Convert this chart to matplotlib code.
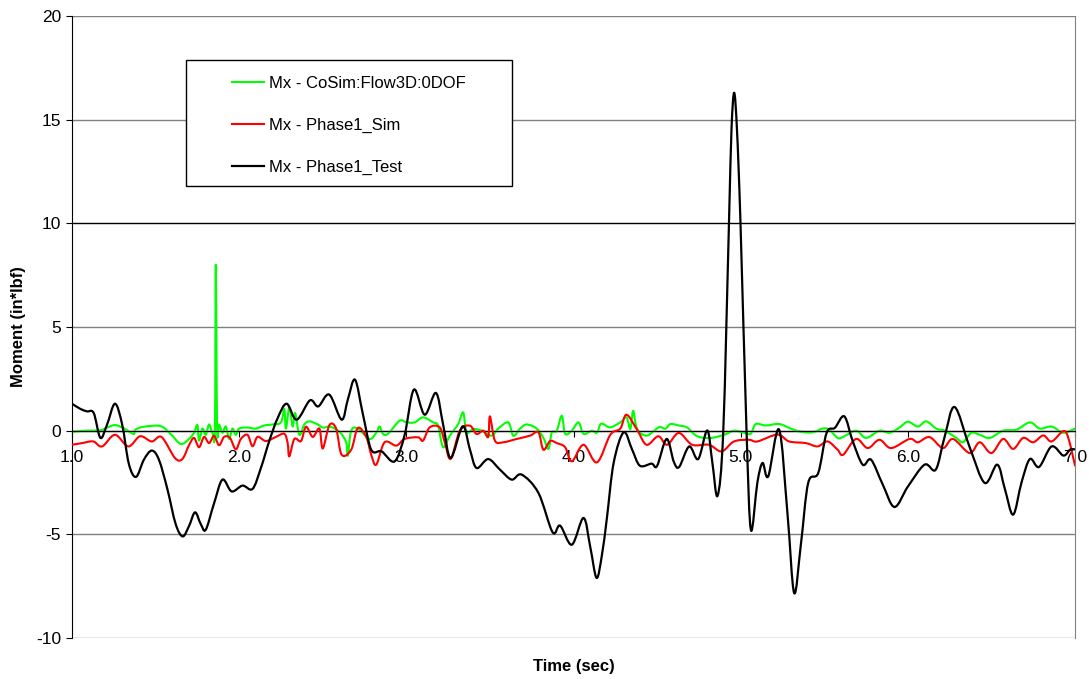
import numpy as np
import matplotlib.pyplot as plt
from matplotlib.patches import Rectangle, PathPatch
from matplotlib.path import Path
from matplotlib.lines import Line2D

plt.rcParams['font.family'] = ['Liberation Sans', 'DejaVu Sans']
plt.rcParams['axes.unicode_minus'] = False

# Mx - CoSim:Flow3D:0DOF
t_cosim = [1.00, 1.08, 1.17, 1.21, 1.257, 1.30, 1.33, 1.37, 1.38, 1.43, 1.53, 1.59, 1.65, 1.70,
           1.73, 1.75, 1.76, 1.78, 1.80, 1.82, 1.84, 1.855, 1.86, 1.868, 1.88, 1.90, 1.92, 1.94,
           1.96, 1.98, 2.00, 2.05, 2.10, 2.15, 2.20, 2.25, 2.27, 2.28, 2.30, 2.32, 2.335, 2.36,
           2.39, 2.42, 2.47, 2.50, 2.543, 2.60, 2.64, 2.65, 2.67, 2.71, 2.78, 2.82, 2.84, 2.86,
           2.89, 2.96, 3.00, 3.05, 3.10, 3.16, 3.19, 3.22, 3.26, 3.31, 3.34, 3.36, 3.40, 3.45,
           3.51, 3.55, 3.61, 3.64, 3.68, 3.72, 3.78, 3.82, 3.85, 3.87, 3.90, 3.93, 3.95, 3.99,
           4.03, 4.06, 4.11, 4.14, 4.16, 4.178, 4.22, 4.28, 4.317, 4.34, 4.357, 4.38, 4.437,
           4.51, 4.55, 4.58, 4.63, 4.68, 4.74, 4.82, 4.90, 4.96, 5.02, 5.06, 5.09, 5.15, 5.23,
           5.30, 5.36, 5.43, 5.49, 5.53, 5.58, 5.613, 5.69, 5.75, 5.83, 5.89, 5.95, 6.00, 6.06,
           6.11, 6.17, 6.22, 6.29, 6.33, 6.38, 6.43, 6.49, 6.57, 6.65, 6.73, 6.79, 6.86, 6.93,
           7.00]
mx_cosim = [-0.05, 0.0, 0.02, 0.15, 0.27, 0.15, 0.02, -0.16, 0.05, 0.19, 0.22, -0.16, -0.64, -0.4,
            -0.1, 0.27, -0.48, 0.1, -0.2, 0.3, -0.1, 0.1, 8.0, 0.2, 0.3, -0.1, 0.2, -0.4,
            0.1, -0.2, 0.1, 0.15, 0.1, 0.25, 0.3, 0.4, 1.05, 0.1, 1.13, 0.2, 0.85, -0.2,
            0.3, 0.45, 0.3, 0.15, 0.19, -0.05, -0.56, -1.2, 0.0, 0.1, -0.4, -0.1, 0.2, -0.15,
            -0.15, 0.48, 0.4, 0.4, 0.64, 0.4, 0.24, -0.8, -0.24, 0.32, 0.88, -0.08, 0.08, 0.0,
            -0.24, 0.1, 0.4, -0.25, 0.1, 0.3, 0.1, -0.35, -0.88, -0.1, 0.0, 0.72, -0.15, 0.0,
            0.4, -0.15, 0.0, -0.1, 0.3, 0.32, 0.16, 0.4, 0.64, 0.08, 0.96, 0.1, -0.24,
            0.16, 0.1, 0.32, 0.25, 0.15, -0.27, -0.35, -0.2, 0.0, -0.1, -0.15, 0.32, 0.25, 0.32,
            0.1, -0.05, -0.08, 0.1, 0.05, -0.35, -0.3, 0.0, -0.35, 0.0, -0.1, 0.15, 0.43, 0.2,
            0.45, 0.1, 0.0, -0.35, -0.56, -0.1, -0.2, -0.35, 0.0, 0.05, 0.4, 0.1, 0.2, -0.1,
            0.1]

# Mx - Phase1_Sim
t_sim = [1.00, 1.06, 1.127, 1.18, 1.257, 1.337, 1.407, 1.477, 1.536, 1.616, 1.66, 1.70, 1.73,
         1.76, 1.79, 1.82, 1.85, 1.88, 1.91, 1.945, 1.98, 2.01, 2.05, 2.08, 2.11, 2.16, 2.22,
         2.27, 2.29, 2.30, 2.33, 2.37, 2.40, 2.44, 2.48, 2.50, 2.54, 2.58, 2.613, 2.67, 2.71,
         2.76, 2.79, 2.82, 2.87, 2.94, 2.99, 3.07, 3.10, 3.14, 3.20, 3.23, 3.265, 3.32, 3.38,
         3.42, 3.46, 3.49, 3.50, 3.53, 3.58, 3.66, 3.74, 3.79, 3.82, 3.86, 3.90, 3.95, 3.99,
         4.06, 4.14, 4.22, 4.28, 4.317, 4.38, 4.437, 4.507, 4.56, 4.63, 4.71, 4.81, 4.886,
         4.96, 5.05, 5.10, 5.22, 5.29, 5.39, 5.46, 5.52, 5.58, 5.613, 5.69, 5.76, 5.83, 5.90,
         6.01, 6.06, 6.13, 6.21, 6.27, 6.37, 6.43, 6.50, 6.57, 6.63, 6.69, 6.75, 6.81, 6.86,
         6.93, 6.96, 7.00]
mx_sim = [-0.68, -0.6, -0.52, -0.76, -0.2, -0.76, -0.27, -0.52, -0.31, -1.32, -1.37, -0.7, -0.35,
          -0.8, -0.3, -0.6, -0.25, -0.7, -0.3, -0.35, -0.9, -0.4, -0.2, -0.75, -0.3, -0.5, -0.3,
          -0.15, -0.6, -1.24, -0.4, -0.5, 0.19, -0.3, 0.1, -0.86, 0.27, 0.1, -1.16, -0.92, 0.13,
          -0.3, -1.16, -1.64, -0.56, -0.72, -0.4, -0.32, -0.48, 0.16, 0.16, -0.56, -1.36, 0.0, 0.24,
          -0.16, 0.0, -0.3, 0.69, -0.48, -0.56, -0.4, -0.24, -0.08, -0.92, -0.5, -0.6, -0.8, -1.48,
          -0.68, -1.53, -0.2, 0.1, 0.77, 0.05, -0.68, -0.27, -0.68, -0.11, -0.68, -0.68, -1.0,
          -0.52, -0.44, -0.52, -0.19, -0.52, -0.6, -0.76, -0.52, -0.92, -1.16, -0.4, -0.84, -0.44, -0.84,
          -0.4, -0.56, -0.31, -0.84, -0.4, -1.08, -0.56, -1.08, -0.4, -0.88, -0.35, -0.56, -0.23, -0.52,
          -0.02, -0.35, -1.68]

# Mx - Phase1_Test
t_test = [1.00, 1.05, 1.09, 1.13, 1.17, 1.21, 1.257, 1.30, 1.34, 1.383, 1.43, 1.477, 1.52, 1.57,
          1.62, 1.662, 1.70, 1.736, 1.77, 1.80, 1.85, 1.90, 1.955, 2.02, 2.08, 2.13, 2.18, 2.23,
          2.284, 2.344, 2.423, 2.473, 2.539, 2.613, 2.65, 2.693, 2.74, 2.79, 2.852, 2.93, 2.99,
          3.045, 3.11, 3.177, 3.22, 3.265, 3.337, 3.38, 3.42, 3.49, 3.56, 3.63, 3.69, 3.79, 3.875,
          3.92, 3.99, 4.06, 4.10, 4.138, 4.17, 4.20, 4.24, 4.30, 4.35, 4.397, 4.467, 4.50, 4.557,
          4.60, 4.632, 4.692, 4.746, 4.80, 4.83, 4.862, 4.896, 4.93, 4.945, 4.961, 4.978, 4.999,
          5.035, 5.061, 5.10, 5.131, 5.165, 5.23, 5.28, 5.32, 5.36, 5.404, 5.464, 5.514, 5.564,
          5.62, 5.67, 5.73, 5.78, 5.85, 5.92, 6.00, 6.10, 6.167, 6.22, 6.28, 6.37, 6.46, 6.535,
          6.58, 6.63, 6.68, 6.73, 6.785, 6.86, 6.93, 6.97, 7.00]
mx_test = [1.30, 1.05, 0.93, 0.85, -0.35, 0.3, 1.30, 0.3, -1.6, -2.23, -1.4, -0.96, -1.4, -2.8,
           -4.5, -5.10, -4.6, -3.94, -4.5, -4.78, -3.5, -2.36, -2.93, -2.65, -2.81, -1.8, -0.5, 0.6,
           1.30, 0.53, 1.46, 1.17, 1.74, 0.53, 1.5, 2.46, 0.8, -0.92, -1.0, -1.48, -0.2,
           1.98, 0.77, 1.82, 0.3, -1.32, 0.21, -0.9, -1.80, -1.37, -1.88, -2.36, -2.12, -3.0, -4.9,
           -4.58, -5.5, -4.21, -5.6, -7.1, -6.0, -4.2, -1.56, -0.08, -0.9, -1.69, -1.59, -1.7, -0.40,
           -1.5, -1.75, -0.76, -1.37, 0.01, -1.5, -3.14, 0.0, 10.0, 14.5, 16.3, 14.5, 10.0,
           0.0, -4.78, -2.5, -1.56, -2.2, 0.05, -4.0, -7.83, -5.5, -2.52, -2.04, -0.11, 0.14,
           0.69, -0.5, -1.64, -1.4, -2.6, -3.68, -2.7, -1.64, -1.88, -0.3, 1.14, -0.8, -2.52, -1.64,
           -2.8, -4.05, -2.5, -1.37, -1.75, -0.76, -1.2, -0.92, -0.9]

x_ticks = [1.0, 2.0, 3.0, 4.0, 5.0, 6.0, 7.0]
y_ticks = [-10, -5, 0, 5, 10, 15, 20]


def smooth_line(ax, x, y, **kw):
    """Draw a smoothed (Catmull-Rom style) line through the given points."""
    p = np.column_stack([x, y]).astype(float)
    n = len(p)
    verts = [p[0]]
    codes = [Path.MOVETO]
    for i in range(n - 1):
        p0 = p[max(i - 1, 0)]
        p1 = p[i]
        p2 = p[i + 1]
        p3 = p[min(i + 2, n - 1)]
        c1 = p1 + (p2 - p0) / 6.0
        c2 = p2 - (p3 - p1) / 6.0
        verts += [c1, c2, p2]
        codes += [Path.CURVE4] * 3
    patch = PathPatch(Path(verts, codes), fill=False, capstyle='round',
                      joinstyle='round', **kw)
    ax.add_patch(patch)
    return patch


fig = plt.figure(figsize=(10.89, 6.79), dpi=100)
ax = fig.add_axes([72 / 1089, 1 - 638 / 679, 1003 / 1089, 622 / 679])

# horizontal grid, the 0 line doubles as the time axis
for y in y_ticks:
    if y in (0, 10):
        ax.axhline(y, color='black', lw=1.0, zorder=1)
    else:
        ax.axhline(y, color='#808080', lw=1.0, zorder=1)

smooth_line(ax, t_cosim, mx_cosim, edgecolor='#00ff00', lw=1.5, zorder=2)
smooth_line(ax, t_sim, mx_sim, edgecolor='#ff0000', lw=1.5, zorder=3)
smooth_line(ax, t_test, mx_test, edgecolor='black', lw=1.6, zorder=4)

ax.set_xlim(1.0, 7.0)
ax.set_ylim(-10, 20)

ax.spines['bottom'].set_position(('data', 0))
ax.spines['bottom'].set_color('black')
ax.spines['top'].set_visible(False)
ax.spines['right'].set_color('#808080')
ax.spines['left'].set_color('black')

ax.set_xticks(x_ticks)
ax.set_xticklabels([f'{v:.1f}' for v in x_ticks])
ax.set_yticks(y_ticks)
ax.tick_params(axis='x', direction='out', length=4, pad=10, labelsize=12.5)
ax.tick_params(axis='y', direction='out', length=4, pad=4, labelsize=12.5)

fig.text(19 / 1089, 1 - 327 / 679, 'Moment (in*lbf)', rotation=90, fontsize=12,
         fontweight='bold', ha='center', va='center')
fig.text(574 / 1089, 1 - 666 / 679, 'Time (sec)', fontsize=12, fontweight='bold',
         ha='center', va='center')

# legend box
box = Rectangle((186 / 1089, 1 - 186 / 679), 326 / 1089, 126 / 679,
                transform=fig.transFigure, facecolor='white', edgecolor='black',
                lw=1.0, zorder=5, clip_on=False)
ax.add_patch(box)
handles = [Line2D([], [], color='#00ff00', lw=1.5),
           Line2D([], [], color='#ff0000', lw=1.5),
           Line2D([], [], color='black', lw=1.6)]
labels = ['Mx - CoSim:Flow3D:0DOF', 'Mx - Phase1_Sim', 'Mx - Phase1_Test']
leg = ax.legend(handles, labels, loc='upper left', bbox_to_anchor=(217 / 1089, 1 - 61 / 679),
                bbox_transform=fig.transFigure, frameon=False, fontsize=12,
                handlelength=1.9, handletextpad=0.3, labelspacing=1.6)
leg.set_zorder(6)

fig.savefig('out.png', dpi=100)
